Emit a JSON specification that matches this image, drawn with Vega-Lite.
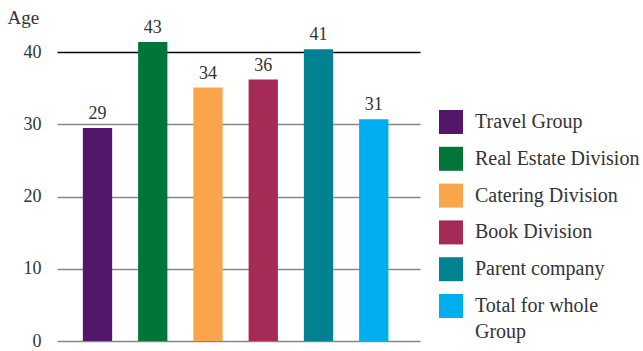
{
  "$schema": "https://vega.github.io/schema/vega-lite/v6.json",
  "width": 363,
  "height": 325,
  "autosize": "none",
  "padding": {"left": 57, "top": 16, "right": 223, "bottom": 10},
  "background": "white",
  "config": {
    "view": {"stroke": null},
    "font": "Liberation Serif"
  },
  "data": {
    "values": [
      {"group": "Travel Group", "age": 29.5, "label": "29"},
      {"group": "Real Estate Division", "age": 41.4, "label": "43"},
      {"group": "Catering Division", "age": 35.1, "label": "34"},
      {"group": "Book Division", "age": 36.2, "label": "36"},
      {"group": "Parent company", "age": 40.4, "label": "41"},
      {"group": "Total for whole Group", "age": 30.7, "label": "31"}
    ]
  },
  "encoding": {
    "x": {
      "field": "group",
      "type": "nominal",
      "sort": null,
      "scale": {"paddingInner": 0.47, "paddingOuter": 0.52, "align": 0.45},
      "axis": null
    },
    "y": {
      "field": "age",
      "type": "quantitative",
      "scale": {"domain": [0, 45], "nice": false},
      "axis": {
        "values": [0, 10, 20, 30, 40],
        "title": "Age",
        "titleAngle": 0,
        "titleAlign": "left",
        "titleBaseline": "alphabetic",
        "titleX": -50,
        "titleY": 7,
        "titleFont": "Liberation Serif",
        "titleFontSize": 19,
        "titleFontWeight": "normal",
        "titleColor": "#333333",
        "labelFont": "Liberation Serif",
        "labelFontSize": 18,
        "labelColor": "#333333",
        "labelPadding": 16,
        "ticks": false,
        "domain": false,
        "grid": true,
        "gridColor": {"condition": {"test": "datum.value == 40", "value": "#000000"}, "value": "#868686"},
        "gridWidth": 1.5,
        "gridOpacity": 1
      }
    }
  },
  "layer": [
    {
      "mark": {"type": "bar"},
      "encoding": {
        "color": {
          "field": "group",
          "type": "nominal",
          "sort": null,
          "scale": {
            "domain": ["Travel Group", "Real Estate Division", "Catering Division", "Book Division", "Parent company", "Total for whole Group"],
            "range": ["#521768", "#00753A", "#F8A54C", "#A52A56", "#008290", "#00AEEF"]
          },
          "legend": {
            "title": null,
            "orient": "none",
            "legendX": 382,
            "legendY": 94,
            "padding": 0,
            "symbolType": "square",
            "symbolSize": 576,
            "symbolStrokeWidth": 0,
            "symbolOpacity": 1,
            "rowPadding": 12.8,
            "labelOffset": 12,
            "labelFont": "Liberation Serif",
            "labelFontSize": 20,
            "labelColor": "#333333",
            "labelLimit": 300,
            "labelExpr": "datum.label == 'Total for whole Group' ? ['Total for whole', 'Group'] : datum.label",
            "encode": {
              "labels": {
                "update": {
                  "lineHeight": {"value": 26}
                }
              }
            }
          }
        }
      }
    },
    {
      "mark": {"type": "text", "baseline": "alphabetic", "dy": -9, "fontSize": 18, "font": "Liberation Serif", "color": "#333333"},
      "encoding": {
        "text": {"field": "label"}
      }
    }
  ]
}
